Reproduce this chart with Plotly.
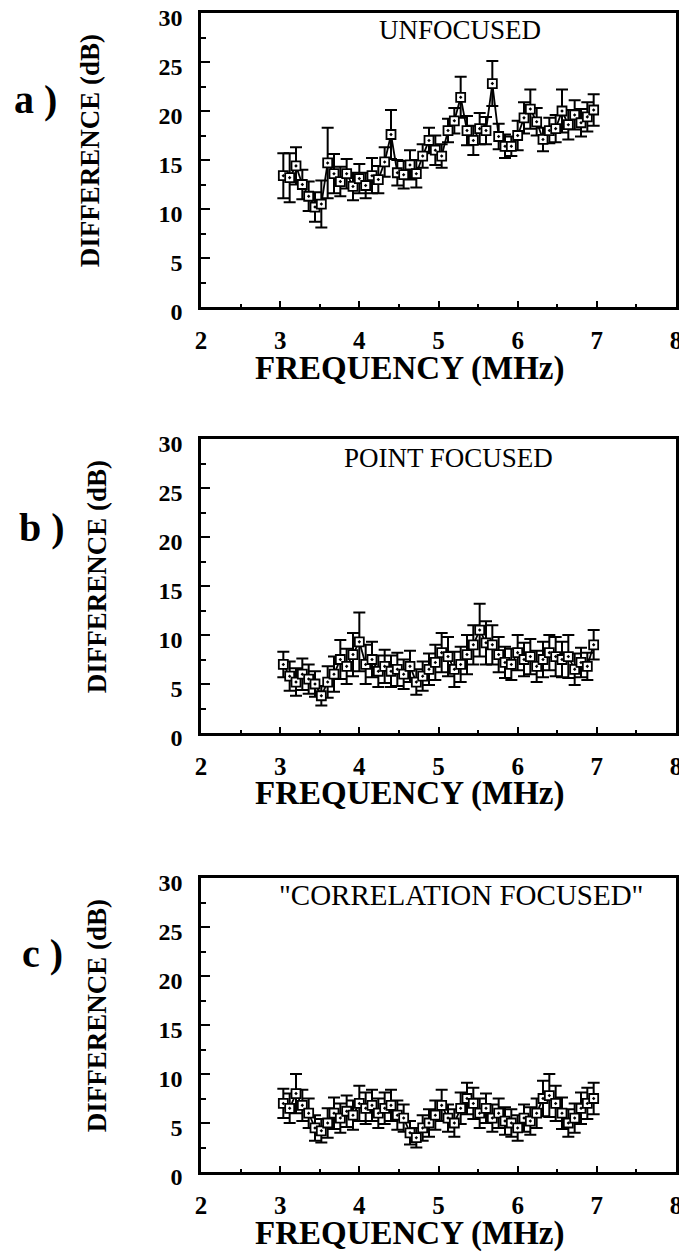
import plotly.graph_objects as go

# page is 687x1253; body has an 8px margin, so the figure is drawn 8px in
OFF = 8
W, H = 687 - OFF, 1253 - OFF

freq = [3.04, 3.12, 3.20, 3.28, 3.36, 3.44, 3.52, 3.60, 3.68, 3.76,
        3.84, 3.92, 4.00, 4.08, 4.16, 4.24, 4.32, 4.40, 4.48, 4.56,
        4.64, 4.72, 4.80, 4.88, 4.96, 5.04, 5.12, 5.20, 5.28, 5.36,
        5.44, 5.52, 5.60, 5.68, 5.76, 5.84, 5.92, 6.00, 6.08, 6.16,
        6.24, 6.32, 6.40, 6.48, 6.56, 6.64, 6.72, 6.80, 6.88, 6.96]

unfocused = [13.4, 13.2, 14.4, 12.5, 11.3, 10.2, 10.5, 14.7, 13.6, 12.8,
             13.6, 12.3, 13.1, 12.4, 13.4, 13.0, 14.8, 17.6, 13.7, 13.5,
             14.5, 13.6, 15.4, 17.0, 16.0, 15.4, 18.0, 19.0, 21.4, 18.0,
             17.0, 18.2, 18.0, 22.8, 17.4, 16.4, 16.4, 17.5, 19.3, 20.2,
             18.9, 17.1, 18.0, 18.2, 20.0, 18.6, 19.6, 18.8, 19.4, 20.1]
unfocused_err = [2.3, 2.5, 1.9, 1.5, 1.5, 1.5, 2.4, 3.6, 2.0, 1.5,
                 1.5, 1.4, 1.5, 1.3, 1.8, 1.4, 1.5, 2.5, 1.3, 1.4,
                 1.5, 1.4, 1.2, 1.3, 1.5, 1.2, 1.2, 1.3, 2.1, 1.5,
                 1.5, 1.6, 1.4, 2.3, 1.3, 1.2, 1.0, 1.5, 1.6, 2.0,
                 1.4, 1.2, 1.3, 1.4, 2.2, 1.5, 1.5, 1.4, 1.5, 1.6]

point = [7.0, 5.8, 5.2, 6.0, 5.5, 5.0, 3.8, 5.2, 6.0, 7.5,
         6.8, 8.0, 9.3, 7.0, 7.5, 6.3, 6.8, 6.3, 6.5, 6.0,
         6.8, 5.2, 5.8, 6.5, 7.2, 8.2, 7.8, 6.5, 7.0, 8.0,
         9.0, 10.5, 9.2, 9.0, 8.0, 7.2, 7.0, 8.2, 7.5, 7.8,
         6.8, 7.5, 8.2, 7.8, 7.5, 7.8, 6.5, 7.2, 6.8, 9.0]
point_err = [1.3, 1.5, 1.4, 1.6, 1.5, 1.3, 1.0, 1.6, 1.8, 2.0,
             1.8, 2.2, 3.0, 2.0, 1.8, 1.6, 1.7, 1.6, 1.7, 1.5,
             1.6, 1.3, 1.5, 1.6, 1.8, 2.0, 2.0, 1.8, 1.8, 2.0,
             2.0, 2.7, 2.2, 2.0, 1.8, 1.6, 1.6, 1.8, 1.7, 1.8,
             1.6, 1.8, 1.8, 2.0, 1.8, 2.2, 1.6, 1.5, 1.4, 1.5]

corr = [7.0, 6.5, 8.0, 6.8, 6.0, 4.5, 4.2, 5.0, 6.0, 5.5,
        6.2, 5.8, 7.0, 6.5, 6.8, 6.0, 6.5, 6.8, 5.8, 5.5,
        4.0, 3.5, 4.5, 5.0, 5.8, 6.8, 5.5, 5.0, 6.5, 7.5,
        7.0, 6.0, 6.5, 5.5, 6.0, 5.2, 5.0, 4.5, 5.5, 5.2,
        6.0, 7.5, 7.8, 7.0, 6.0, 5.0, 5.5, 6.5, 7.0, 7.5]
corr_err = [1.5, 1.5, 2.0, 1.6, 1.5, 1.3, 1.2, 1.5, 1.6, 1.5,
            1.6, 1.5, 1.8, 1.6, 1.6, 1.5, 1.6, 1.6, 1.5, 1.4,
            1.2, 1.0, 1.3, 1.4, 1.5, 1.6, 1.4, 1.4, 1.6, 1.6,
            1.6, 1.5, 1.5, 1.4, 1.5, 1.4, 1.4, 1.3, 1.4, 1.4,
            1.5, 1.8, 2.2, 1.8, 1.6, 1.4, 1.5, 1.6, 1.6, 1.6]

x_ticks = [2, 3, 4, 5, 6, 7, 8]
y_ticks = [0, 5, 10, 15, 20, 25, 30]

panels = [
    dict(y=unfocused, e=unfocused_err, label="a )", text="UNFOCUSED", tsize=27,
         top=13, bot=307, lab_xy=(35, 100), title_x=90, text_xy=(460, 30)),
    dict(y=point, e=point_err, label="b )", text="POINT FOCUSED", tsize=27,
         top=439, bot=733, lab_xy=(42, 527), title_x=97, text_xy=(448, 458)),
    dict(y=corr, e=corr_err, label="c )", text='"CORRELATION FOCUSED"', tsize=29,
         top=878, bot=1172, lab_xy=(42, 953), title_x=97, text_xy=(461, 895)),
]

SERIF = "Liberation Serif"
fig = go.Figure()
annotations = []

def px_y(p):
    return 1 - (p - OFF) / H

def px_x(p):
    return (p - OFF) / W

def note(x, y, text, size, bold=True, angle=0):
    return dict(x=px_x(x), y=px_y(y), xref="paper", yref="paper", text=text,
                showarrow=False, xanchor="center", yanchor="middle", textangle=angle,
                font=dict(family=SERIF, size=size, color="black",
                          weight="bold" if bold else "normal"))

for i, p in enumerate(panels):
    n = "" if i == 0 else str(i + 1)
    fig.add_trace(go.Scatter(
        x=freq, y=p["y"], mode="lines+markers",
        xaxis="x" + n, yaxis="y" + n,
        line=dict(color="black", width=1.8),
        marker=dict(symbol="square-dot", size=9, color="white",
                    line=dict(color="black", width=1.8)),
        error_y=dict(type="data", array=p["e"], visible=True,
                     color="black", thickness=2, width=6),
        showlegend=False, cliponaxis=False,
    ))
    ax = dict(range=[2, 8], tickvals=x_ticks, ticktext=[str(v) for v in x_ticks],
              ticks="inside", ticklen=6, tickwidth=2, tickcolor="black",
              minor=dict(dtick=0.5, ticks="inside", ticklen=3, tickwidth=1.5, tickcolor="black"),
              showline=True, linecolor="black", linewidth=2.5, mirror=True,
              showgrid=False, zeroline=False, ticklabelstandoff=9,
              ticklabeloverflow="allow",
              tickfont=dict(family=SERIF, size=25, color="black", weight="bold"),
              domain=[px_x(201), px_x(676)], anchor="y" + n)
    ay = dict(range=[0, 30], tickvals=y_ticks, ticktext=[str(v) for v in y_ticks],
              ticks="inside", ticklen=9, tickwidth=2, tickcolor="black",
              minor=dict(dtick=2.5, ticks="inside", ticklen=5, tickwidth=2, tickcolor="black"),
              showline=True, linecolor="black", linewidth=2.5, mirror=True,
              showgrid=False, zeroline=False, ticklabelstandoff=11,
              ticklabelshift=5, ticklabeloverflow="allow",
              tickfont=dict(family=SERIF, size=24, color="black", weight="bold"),
              domain=[px_y(p["bot"]), px_y(p["top"])], anchor="x" + n)
    fig.update_layout(**{"xaxis" + n: ax, "yaxis" + n: ay})

    annotations.append(note(p["lab_xy"][0], p["lab_xy"][1], p["label"], 40))
    ycen = p["top"] + 0.47 * (p["bot"] - p["top"])
    annotations.append(note(p["title_x"], ycen, "DIFFERENCE (dB)", 27, angle=-90))
    annotations.append(note(409, p["bot"] + 61, "FREQUENCY (MHz)", 33))
    annotations.append(note(p["text_xy"][0], p["text_xy"][1], p["text"], p["tsize"], bold=False))

fig.update_layout(width=W, height=H, margin=dict(l=0, r=0, t=0, b=0, autoexpand=False),
                  paper_bgcolor="white", plot_bgcolor="white",
                  annotations=annotations)

fig.write_html("out.html")
